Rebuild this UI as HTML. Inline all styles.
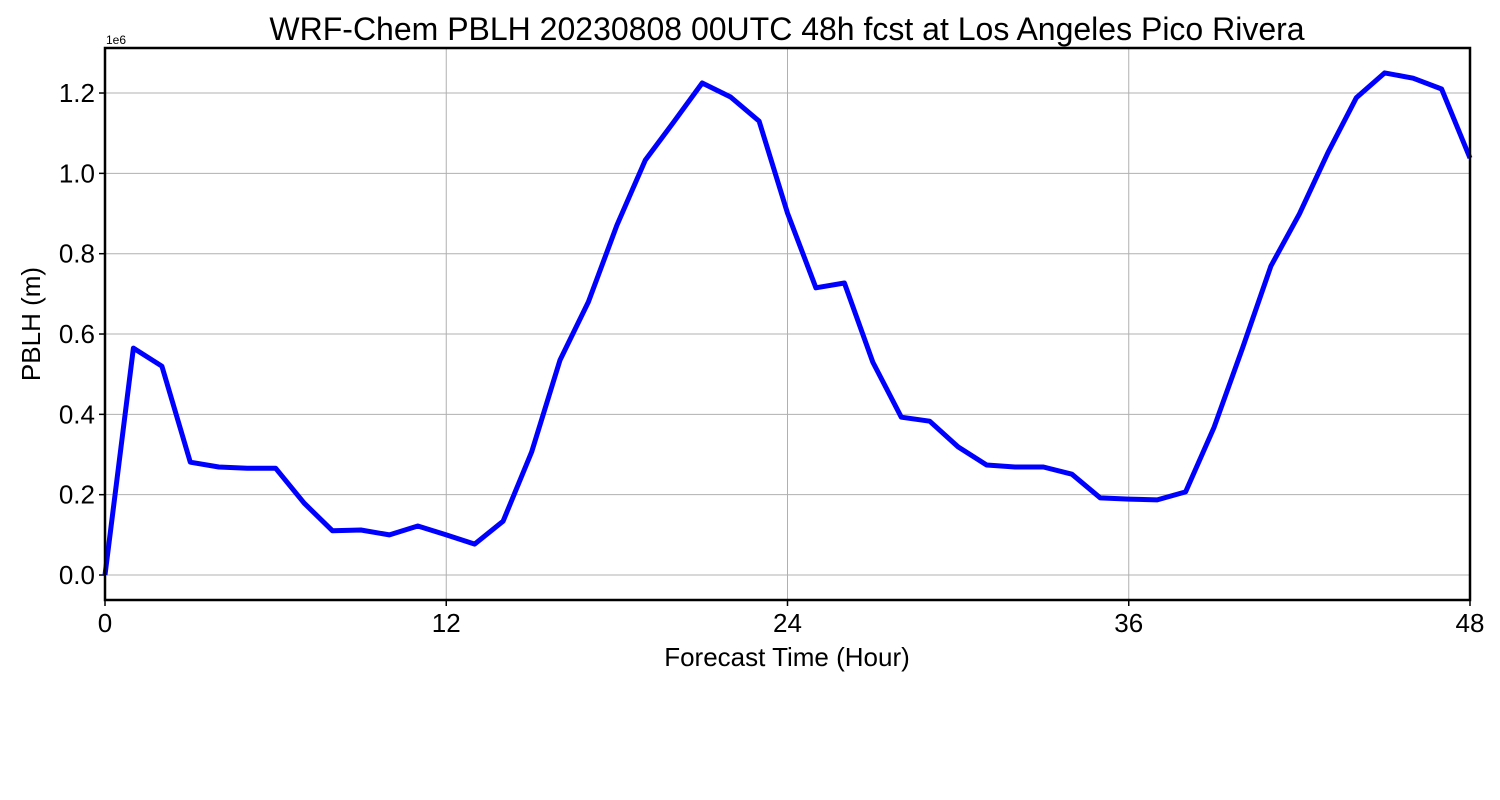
<!DOCTYPE html>
<html><head><meta charset="utf-8"><style>
html,body{margin:0;padding:0;background:#fff;width:1500px;height:800px;overflow:hidden}
svg{display:block;font-family:"Liberation Sans","DejaVu Sans",sans-serif}
</style></head><body>
<svg id="chart" width="1500" height="800">
<text x="787" y="40" text-anchor="middle" font-size="32">WRF-Chem PBLH  20230808 00UTC 48h fcst at Los Angeles Pico Rivera</text>
<g id="grid"></g>
<g id="ticks"></g>
<g id="series"></g>
<rect x="105" y="48" width="1365" height="552" fill="none" stroke="#000" stroke-width="2.5"/>
<text x="106" y="44" font-size="12">1e6</text>
<text x="787" y="666" text-anchor="middle" font-size="26">Forecast Time (Hour)</text>
<text transform="translate(40,324) rotate(-90)" text-anchor="middle" font-size="26">PBLH  (m)</text>
</svg>
<script>
const hours = [0,1,2,3,4,5,6,7,8,9,10,11,12,13,14,15,16,17,18,19,20,21,22,23,24,25,26,27,28,29,30,31,32,33,34,35,36,37,38,39,40,41,42,43,44,45,46,47,48];
const pblh = [0,0.565,0.520,0.281,0.269,0.266,0.266,0.179,0.110,0.112,0.100,0.122,0.100,0.077,0.134,0.306,0.535,0.680,0.871,1.033,1.128,1.225,1.190,1.130,0.901,0.715,0.727,0.530,0.393,0.383,0.319,0.274,0.269,0.269,0.251,0.192,0.189,0.187,0.207,0.368,0.565,0.769,0.899,1.051,1.188,1.250,1.237,1.210,1.038];
const xTicks = [0,12,24,36,48];
const yTicks = [0.0,0.2,0.4,0.6,0.8,1.0,1.2];
const yTickLabels = ["0.0","0.2","0.4","0.6","0.8","1.0","1.2"];
const X0=105,X1=1470,Y0=600,Y1=48, xmin=0,xmax=48, ymin=-0.0622, ymax=1.3121;
const xs=v=>X0+(v-xmin)/(xmax-xmin)*(X1-X0);
const ys=v=>Y0-(v-ymin)/(ymax-ymin)*(Y0-Y1);
const NS="http://www.w3.org/2000/svg";
function mk(tag,attrs,parent){const e=document.createElementNS(NS,tag);for(const k in attrs)e.setAttribute(k,attrs[k]);document.getElementById(parent).appendChild(e);return e;}
xTicks.forEach(t=>{
  const g=mk('line',{x1:xs(t),x2:xs(t),y1:Y1,y2:Y0,stroke:'#b0b0b0','stroke-width':1},'grid');
  
  
  const tk=mk('line',{x1:xs(t),x2:xs(t),y1:Y0,y2:Y0+6,stroke:'#000','stroke-width':1.5},'ticks');
  
  
  const tx=mk('text',{x:xs(t),y:Y0+32,'text-anchor':'middle','font-size':26},'ticks');
  tx.textContent=t;
  
  
});
yTicks.forEach((t,i)=>{
  const g=mk('line',{x1:X0,x2:X1,y1:ys(t),y2:ys(t),stroke:'#b0b0b0','stroke-width':1},'grid');
  
  
  const tk=mk('line',{x1:X0-6,x2:X0,y1:ys(t),y2:ys(t),stroke:'#000','stroke-width':1.5},'ticks');
  
  
  const tx=mk('text',{x:X0-10,y:ys(t)+9,'text-anchor':'end','font-size':26},'ticks');
  tx.textContent=yTickLabels[i];
  
  
});
const pts=hours.map((h,i)=>xs(h).toFixed(1)+','+ys(pblh[i]).toFixed(1)).join(' ');
const line=mk('polyline',{points:pts,fill:'none',stroke:'#0000ff','stroke-width':5,'stroke-linejoin':'round'},'series');


</script>
</body></html>
